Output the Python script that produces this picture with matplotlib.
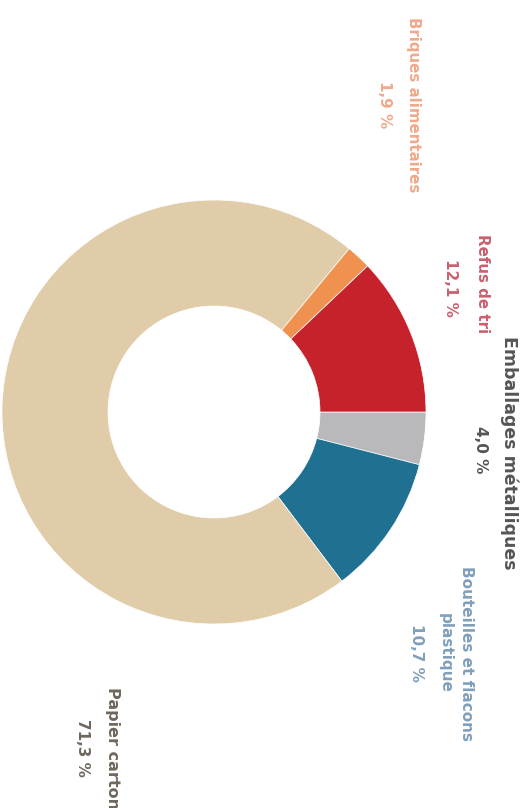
import matplotlib.pyplot as plt

# valeurs (%), ordre horaire depuis l'horizontale droite de l'image pivotee
categories = ["Emballages métalliques", "Bouteilles et flacons\nplastique",
              "Papier carton", "Briques alimentaires", "Refus de tri"]
values = [4.0, 10.7, 71.3, 1.9, 12.1]
value_labels = ["4,0 %", "10,7 %", "71,3 %", "1,9 %", "12,1 %"]
colors = ["#b9b8ba", "#1f7091", "#e0cca8", "#f0914f", "#c6222b"]
text_colors = ["#555555", "#7f9fbb", "#6e675c", "#f0a98a", "#c9606e"]

W, H = 528, 808
fig = plt.figure(figsize=(W / 100, H / 100), dpi=100)
ax = fig.add_axes([0, 0, 1, 1])

ax.pie(values, colors=colors, startangle=0, counterclock=False,
       center=(214, H - 412), radius=212,
       wedgeprops=dict(width=106, linewidth=0.5, edgecolor="white"))
ax.set_xlim(0, W)
ax.set_ylim(0, H)
ax.set_aspect("equal")
ax.axis("off")

# positions des etiquettes (pixels image): nom (x, y), valeur (x, y)
name_pos = [(509, 453), (456, 653), (112, 748), (413, 105), (482, 284)]
val_pos = [(481, 450), (417, 653), (83, 748), (385, 105), (450, 288)]
name_size = [12.5, 11, 11.5, 10.8, 10.8]

for i in range(len(categories)):
    nx, ny = name_pos[i]
    vx, vy = val_pos[i]
    ax.text(nx, H - ny, categories[i], rotation=270, ha="center", va="center",
            fontsize=name_size[i], fontweight="heavy", color=text_colors[i],
            family="DejaVu Sans", linespacing=1.5)
    ax.text(vx, H - vy, value_labels[i], rotation=270, ha="center", va="center",
            fontsize=11, fontweight="heavy", color=text_colors[i],
            family="DejaVu Sans")

plt.savefig("out.png", dpi=100)
